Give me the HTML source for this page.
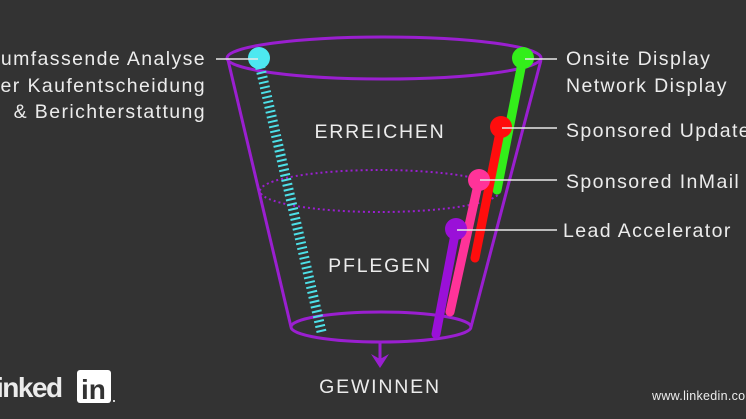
<!DOCTYPE html>
<html><head><style>
html,body{margin:0;padding:0;background:#333333;}
svg{display:block}
text{font-family:"Liberation Sans",sans-serif;fill:#ececec;}
</style></head><body>
<svg width="746" height="419" viewBox="0 0 746 419" xmlns="http://www.w3.org/2000/svg">
<rect width="746" height="419" fill="#333333"/>
<g fill="none" stroke="#9a1fd0" stroke-width="3">
<ellipse cx="384" cy="58" rx="157" ry="21"/>
<ellipse cx="381" cy="327" rx="90" ry="15"/>
<line x1="228" y1="60" x2="291" y2="327"/>
<line x1="541" y1="60" x2="471" y2="327"/>
<ellipse cx="380" cy="191" rx="120" ry="21" stroke-width="2" stroke-dasharray="2 3"/>
<line x1="380" y1="342" x2="380" y2="360"/>
</g>
<polygon points="371,354 380,368 389,354 380,359" fill="#9a1fd0"/>
<line x1="259" y1="62" x2="322" y2="334" stroke="#4de0e8" stroke-width="10" stroke-dasharray="2 3"/>
<g stroke-linecap="round" stroke-width="9">
<line x1="523" y1="58" x2="497" y2="190" stroke="#33ee1a"/>
<line x1="501" y1="127" x2="475" y2="258" stroke="#ff0d0d"/>
<line x1="479" y1="180" x2="450" y2="312" stroke="#ff3399"/>
<line x1="456" y1="229" x2="436" y2="334" stroke="#9a10d8"/>
</g>
<circle cx="259" cy="58" r="11" fill="#4de8f0"/>
<circle cx="523" cy="58" r="11" fill="#33ee1a"/>
<circle cx="501" cy="127" r="11" fill="#ff0d0d"/>
<circle cx="479" cy="180" r="11" fill="#ff3399"/>
<circle cx="456" cy="229" r="11" fill="#9a10d8"/>
<g stroke="#e8e8e8" stroke-width="1.5">
<line x1="216" y1="59" x2="258" y2="59"/>
<line x1="525" y1="59" x2="557" y2="59"/>
<line x1="502" y1="128" x2="557" y2="128"/>
<line x1="480" y1="180" x2="557" y2="180"/>
<line x1="457" y1="230" x2="557" y2="230"/>
</g>
<g font-size="19.5" letter-spacing="1.4">
<text x="206" y="65" text-anchor="end">umfassende Analyse</text>
<text x="206" y="92" text-anchor="end">der Kaufentscheidung</text>
<text x="206" y="118" text-anchor="end">&amp; Berichterstattung</text>
<text x="566" y="65">Onsite Display</text>
<text x="566" y="92">Network Display</text>
<text x="566" y="137">Sponsored Updates</text>
<text x="566" y="188">Sponsored InMail</text>
<text x="563" y="237">Lead Accelerator</text>
</g>
<g font-size="19.5" letter-spacing="1.8">
<text x="380" y="138" text-anchor="middle">ERREICHEN</text>
<text x="380" y="272" text-anchor="middle">PFLEGEN</text>
<text x="380" y="393" text-anchor="middle">GEWINNEN</text>
</g>
<text x="-4" y="397" font-size="28" font-weight="bold" fill="#fff" letter-spacing="-1.5">inked</text>
<rect x="77" y="370" width="34" height="33" rx="3" fill="#fff"/>
<text x="81" y="399" font-size="28" font-weight="bold" style="fill:#333">in</text>
<circle cx="114" cy="401" r="1" fill="#fff"/>
<text x="652" y="400" font-size="12.5" letter-spacing="0.3">www.linkedin.com</text>
</svg>
</body></html>
